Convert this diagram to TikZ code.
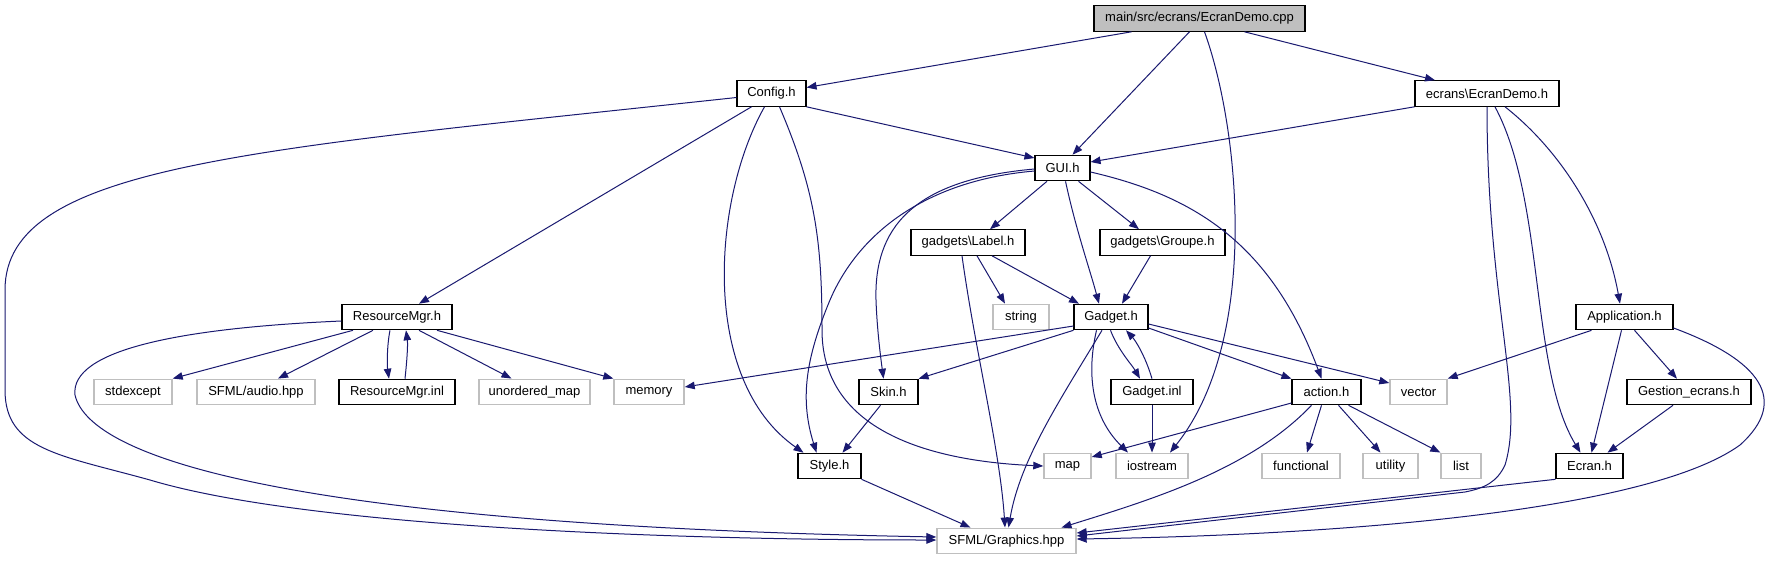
\documentclass[tikz,border=0pt]{standalone}
\usepackage{fontspec}
\setmainfont{Liberation Sans}
\usetikzlibrary{arrows.meta}
\definecolor{edgeblue}{HTML}{191970}
\definecolor{extgray}{HTML}{BFBFBF}
\definecolor{curgray}{HTML}{BFBFBF}
\begin{document}
\begin{tikzpicture}[x=1pt,y=-1pt,
  box/.style={draw=black, line width=1.1pt, fill=white, minimum height=25.5pt, inner sep=0pt,
    font=\fontsize{13}{15}\selectfont, text=black},
  ext/.style={box, draw=extgray, line width=1.4pt},
  cur/.style={box, fill=curgray},
  dep/.style={draw=edgeblue, line width=1pt, -{Triangle[length=10pt,width=7.5pt]}}]
\useasboundingbox[fill=white] (0,0) rectangle (1773,560);

% row 0-3
\node[cur, minimum width=211pt] (cpp) at (1199.5,18.5) {main/src/ecrans/EcranDemo.cpp};
\node[box, minimum width=69pt] (config) at (771.5,93.5) {Config.h};
\node[box, minimum width=144pt] (edh) at (1487,93.5) {ecrans\textbackslash EcranDemo.h};
\node[box, minimum width=55pt] (gui) at (1062.5,168) {GUI.h};
\node[box, minimum width=114pt] (label) at (968,242.5) {gadgets\textbackslash Label.h};
\node[box, minimum width=125pt] (groupe) at (1162.5,242.5) {gadgets\textbackslash Groupe.h};
% row 4
\node[box, minimum width=110pt] (resmgr) at (397,317) {ResourceMgr.h};
\node[ext, minimum width=56pt] (string) at (1021,317) {string};
\node[box, minimum width=74pt] (gadget) at (1111,317) {Gadget.h};
\node[box, minimum width=97pt] (app) at (1624.5,317) {Application.h};
% row 5
\node[ext, minimum width=78pt] (stdexcept) at (133,392) {stdexcept};
\node[ext, minimum width=118pt] (audio) at (256,392) {SFML/audio.hpp};
\node[box, minimum width=116pt] (inl) at (397,392) {ResourceMgr.inl};
\node[ext, minimum width=111pt] (umap) at (534.5,392) {unordered\_map};
\node[ext, minimum width=70pt] (memory) at (649,392) {memory};
\node[box, minimum width=59pt] (skin) at (888.5,392) {Skin.h};
\node[box, minimum width=82pt] (ginl) at (1152,392) {Gadget.inl};
\node[box, minimum width=69pt] (action) at (1326.5,392) {action.h};
\node[ext, minimum width=57pt] (vector) at (1418.5,392) {vector};
\node[box, minimum width=124pt] (gestion) at (1689,392) {Gestion\_ecrans.h};
% row 6
\node[box, minimum width=63pt] (style) at (829.5,466) {Style.h};
\node[ext, minimum width=47pt] (map) at (1067.5,466) {map};
\node[ext, minimum width=72pt] (iostream) at (1152,466) {iostream};
\node[ext, minimum width=78pt] (functional) at (1301,466) {functional};
\node[ext, minimum width=55pt] (utility) at (1390.5,466) {utility};
\node[ext, minimum width=40pt] (list) at (1461,466) {list};
\node[box, minimum width=67pt] (ecran) at (1589.5,466) {Ecran.h};
% row 7
\node[ext, minimum width=139pt] (graphics) at (1006.5,541) {SFML/Graphics.hpp};

% cpp
\draw[dep] ([xshift=-68pt]cpp.south) -- ([yshift=6pt]config.east);
\draw[dep] ([xshift=-10pt]cpp.south) -- ([xshift=10pt]gui.north);
\draw[dep] ([xshift=5pt]cpp.south) .. controls (1240,130) and (1260,340) .. ([xshift=18pt]iostream.north);
\draw[dep] ([xshift=45pt]cpp.south) -- ([xshift=-52pt]edh.north);
% Config.h
\draw[dep] (config.south east) -- ([yshift=10pt]gui.west);
\draw[dep] ([xshift=-20pt]config.south) -- ([xshift=22pt]resmgr.north);
\draw[dep] ([xshift=-7pt]config.south) .. controls (712,200) and (700,380) .. ([xshift=-26pt]style.north);
\draw[dep] ([xshift=8pt]config.south) .. controls (815,190) and (822,240) .. (822,330)
   .. controls (822,440) and (950,462) .. (map.west);
\draw[dep] ([yshift=-4pt]config.west) .. controls (250,150) and (5,165) .. (5,290) -- (5,390)
   .. controls (5,450) and (60,455) .. (150,480) .. controls (300,525) and (650,540) .. ([yshift=1pt]graphics.west);
% EcranDemo.h
\draw[dep] (edh.south west) -- ([yshift=6pt]gui.east);
\draw[dep] (edh.south) .. controls (1487,300) and (1525,400) .. (1505,465)
   .. controls (1497,482) and (1485,488) .. (1465,492) -- ([yshift=5pt]graphics.east);
\draw[dep] ([xshift=8pt]edh.south) .. controls (1545,200) and (1530,370) .. ([xshift=-9pt]ecran.north);
\draw[dep] ([xshift=18pt]edh.south) .. controls (1560,150) and (1605,220) .. ([xshift=-4.5pt]app.north);
% GUI.h
\draw[dep] ([xshift=-15.5pt]gui.south) -- ([xshift=22pt]label.north);
\draw[dep] ([xshift=16pt]gui.south) -- ([xshift=-23.5pt]groupe.north);
\draw[dep] ([xshift=3pt]gui.south) .. controls (1076,230) and (1090,270) .. ([xshift=-12pt]gadget.north);
\draw[dep] ([yshift=-4pt]gui.east) .. controls (1190,195) and (1270,240) .. ([xshift=-5pt]action.north);
\draw[dep] ([yshift=-3pt]gui.west) .. controls (930,180) and (860,230) .. (830,300)
   .. controls (805,360) and (800,400) .. ([xshift=-13pt]style.north);
\draw[dep] ([yshift=-1pt]gui.west) .. controls (910,180) and (874,230) .. (876,300)
   .. controls (877,330) and (881,360) .. ([xshift=-5pt]skin.north);
% Label.h, Groupe.h
\draw[dep] ([xshift=9pt]label.south) -- ([xshift=-16pt]string.north);
\draw[dep] ([xshift=24pt]label.south) -- ([xshift=-32pt]gadget.north);
\draw[dep] ([xshift=-6pt]label.south) .. controls (975,350) and (1000,450) .. ([xshift=-1.5pt]graphics.north);
\draw[dep] ([xshift=-12pt]groupe.south) -- ([xshift=11pt]gadget.north);
% ResourceMgr.h
\draw[dep] ([xshift=-44pt]resmgr.south) -- (stdexcept.north east);
\draw[dep] ([xshift=-24pt]resmgr.south) -- ([xshift=22pt]audio.north);
\draw[dep] ([xshift=-7pt]resmgr.south) .. controls (387,345) and (387,365) .. ([xshift=-8pt]inl.north);
\draw[dep] ([xshift=8pt]inl.north) .. controls (407,360) and (408,345) .. ([xshift=9pt]resmgr.south);
\draw[dep] ([xshift=22pt]resmgr.south) -- ([xshift=-23pt]umap.north);
\draw[dep] ([xshift=40pt]resmgr.south) -- (memory.north west);
\draw[dep] ([yshift=-4pt]resmgr.west) .. controls (180,328) and (70,350) .. (75,395)
   .. controls (90,460) and (300,525) .. ([yshift=4pt]graphics.west);
% Gadget.h
\draw[dep] ([yshift=-9pt]gadget.west) -- ([yshift=5pt]memory.east);
\draw[dep] (gadget.south west) -- (skin.north east);
\draw[dep] ([xshift=-9pt]gadget.south) .. controls (1060,400) and (1020,460) .. ([xshift=2pt]graphics.north);
\draw[dep] ([xshift=-0.5pt]gadget.south) .. controls (1118,350) and (1132,365) .. ([xshift=-12pt]ginl.north);
\draw[dep] (ginl.north) .. controls (1145,355) and (1135,340) .. ([xshift=15pt]gadget.south);
\draw[dep] ([xshift=-14.5pt]gadget.south) .. controls (1085,380) and (1095,420) .. ([xshift=-24pt]iostream.north);
\draw[dep] ([yshift=-11pt]gadget.east) -- (action.north west);
\draw[dep] ([yshift=-7pt]gadget.east) -- ([yshift=9pt]vector.west);
\draw[dep] (ginl.south) -- (iostream.north);
% action.h
\draw[dep] ([yshift=-11pt]action.west) -- ([yshift=9pt]map.east);
\draw[dep] ([xshift=-15pt]action.south) .. controls (1250,470) and (1150,500) .. ([xshift=55pt]graphics.north);
\draw[dep] ([xshift=-5pt]action.south) -- ([xshift=6pt]functional.north);
\draw[dep] ([xshift=12pt]action.south) -- ([xshift=-10pt]utility.north);
\draw[dep] ([xshift=22pt]action.south) -- (list.north west);
% Application.h
\draw[dep] ([xshift=-33pt]app.south) -- (vector.north east);
\draw[dep] ([xshift=10pt]app.south) -- ([xshift=-12pt]gestion.north);
\draw[dep] ([xshift=-3pt]app.south) -- ([xshift=2pt]ecran.north);
\draw[dep] ([yshift=-11pt]app.east) .. controls (1760,360) and (1790,400) .. (1740,445)
   .. controls (1650,510) and (1350,535) .. ([yshift=2pt]graphics.east);
% others
\draw[dep] ([xshift=-16pt]gestion.south) -- ([xshift=18pt]ecran.north);
\draw[dep] (ecran.south west) -- ([yshift=8pt]graphics.east);
\draw[dep] ([xshift=-8pt]skin.south) -- ([xshift=13pt]style.north);
\draw[dep] (style.south east) -- ([xshift=-36pt]graphics.north);
\end{tikzpicture}
\end{document}
